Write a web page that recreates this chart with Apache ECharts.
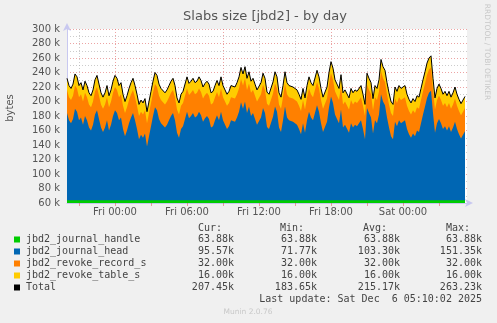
<!DOCTYPE html>
<html><head><meta charset="utf-8">
<script src="https://cdn.jsdelivr.net/npm/echarts@6/dist/echarts.min.js"></script>
<style>html,body{margin:0;padding:0;background:#f0f0f0}#c{width:497px;height:323px}</style>
</head><body><div id="c"></div>
<script>
// time in hours relative to Fri 00:00; samples every 10 minutes
const startHour = -4;
const stepHours = 1 / 6;
const axisMinHour = -4;
const axisMaxHour = 29.3333;
// Total (k bytes)
const totalK = [
 232,222,218,224,238,234,222,226,216,228,
 222,212,208,216,230,236,224,212,206,212,
 222,208,216,228,236,232,222,226,210,200,
 208,218,226,232,222,210,196,202,198,204,
 186,200,214,228,240,236,224,218,220,212,
 216,222,228,232,222,205,198,210,214,212,
 234,225,228,232,226,228,234,229,220,225,
 228,224,212,214,222,229,222,234,222,224,
 210,214,222,220,220,226,234,247,238,248,
 232,241,228,232,224,216,214,226,239,232,
 213,210,208,227,241,234,212,206,222,241,
 226,222,224,220,222,216,210,203,218,205,
 222,234,226,222,224,243,234,218,206,204,
 220,240,255,246,230,224,218,237,212,216,
 218,205,218,212,216,214,212,222,210,196,
 239,232,226,204,222,218,230,258,248,243,
 226,212,200,196,220,214,222,218,216,222,
 210,203,198,204,200,208,206,218,230,241,
 253,260,263,232,205,218,224,218,210,214,
 208,214,206,212,220,210,203,197,202,207
];
const handleK = 63.88;
const recordK = 32.00;
const tableK = 16.00;
const xTickHours = [0, 6, 12, 18, 24];
const xTickLabels = ['Fri 00:00', 'Fri 06:00', 'Fri 12:00', 'Fri 18:00', 'Sat 00:00'];
const xMajorTickHours = [-3, 0, 3, 6, 9, 12, 15, 18, 21, 24, 27];
const yMin = 60, yMax = 300;
const legendNames = ['jbd2_journal_handle', 'jbd2_journal_head', 'jbd2_revoke_record_s', 'jbd2_revoke_table_s', 'Total'];
const legendColors = ['#00CC00', '#0066B3', '#FF8000', '#FFCC00', '#000000'];
const legendCur = ['63.88k', '95.57k', '32.00k', '16.00k', '207.45k'];
const legendMin = ['63.88k', '71.77k', '32.00k', '16.00k', '183.65k'];
const legendAvg = ['63.88k', '103.30k', '32.00k', '16.00k', '215.17k'];
const legendMax = ['63.88k', '151.35k', '32.00k', '16.00k', '263.23k'];

const hours = totalK.map((_, i) => startHour + i * stepHours);
// cumulative tops of the stacked areas (handle, +head, +record, +table)
const headK = totalK.map(t => t - handleK - recordK - tableK);
const topHandle = hours.map(h => [h, handleK]);
const topHead = hours.map((h, i) => [h, handleK + headK[i]]);
const topRecord = hours.map((h, i) => [h, handleK + headK[i] + recordK]);
const topTable = hours.map((h, i) => [h, handleK + headK[i] + recordK + tableK]);
const totalData = hours.map((h, i) => [h, totalK[i]]);

const RED = 'rgba(220,90,90,0.55)';
const GRAY = 'rgba(170,170,170,0.6)';
const mono = '"DejaVu Sans Mono", monospace';
const sans = '"DejaVu Sans", sans-serif';

function area(name, data, color, z) {
  return { name, type: 'line', data, symbol: 'none', showSymbol: false, z,
    lineStyle: { width: 0 }, areaStyle: { color, opacity: 1, origin: 'start' }, itemStyle: { color },
    silent: true, animation: false };
}

const graphics = [];
graphics.push({ type: 'text', style: { text: 'Slabs size [jbd2] - by day', x: 265, y: 17, align: 'center', verticalAlign: 'middle', font: '13px ' + sans, fill: '#555' } });
graphics.push({ type: 'text', x: 10, y: 108, rotation: Math.PI / 2, style: { text: 'bytes', align: 'center', verticalAlign: 'middle', font: '10px ' + sans, fill: '#555' } });
graphics.push({ type: 'text', x: 487, y: 52, rotation: -Math.PI / 2, style: { text: 'RRDTOOL / TOBI OETIKER', align: 'center', verticalAlign: 'middle', font: '7.5px ' + sans, fill: '#c8c8c8' } });
const rowY = [239.5, 251.5, 263.5, 275.5, 287.5];
const colX = [234, 317, 400, 482];
const headerX = [222, 304, 387, 470];
['Cur:', 'Min:', 'Avg:', 'Max:'].forEach((t, j) => {
  graphics.push({ type: 'text', style: { text: t, x: headerX[j], y: 228.5, align: 'right', verticalAlign: 'middle', font: '10px ' + mono, fill: '#444' } });
});
legendNames.forEach((n, i) => {
  graphics.push({ type: 'rect', shape: { x: 14, y: rowY[i] - 3, width: 6, height: 6 }, style: { fill: legendColors[i] } });
  graphics.push({ type: 'text', style: { text: n, x: 26, y: rowY[i], align: 'left', verticalAlign: 'middle', font: '10px ' + mono, fill: '#444' } });
  [legendCur, legendMin, legendAvg, legendMax].forEach((arr, j) => {
    graphics.push({ type: 'text', style: { text: arr[i], x: colX[j], y: rowY[i], align: 'right', verticalAlign: 'middle', font: '10px ' + mono, fill: '#444' } });
  });
});
graphics.push({ type: 'text', style: { text: 'Last update: Sat Dec  6 05:10:02 2025', x: 482, y: 299.5, align: 'right', verticalAlign: 'middle', font: '10px ' + mono, fill: '#444' } });
graphics.push({ type: 'text', style: { text: 'Munin 2.0.76', x: 248, y: 312, align: 'center', verticalAlign: 'middle', font: '7.5px ' + sans, fill: '#c8c8c8' } });

const chart = echarts.init(document.getElementById('c'), null, { renderer: 'canvas' });
chart.setOption({
  animation: false,
  backgroundColor: '#f0f0f0',
  grid: { left: 67, right: 30, top: 29, bottom: 120, show: true, backgroundColor: '#ffffff', borderWidth: 0 },
  xAxis: {
    type: 'value', min: axisMinHour, max: axisMaxHour, interval: 1,
    axisLine: { show: true, onZero: false, lineStyle: { color: '#c8c8f0', width: 1 }, symbol: ['none', 'arrow'], symbolSize: [6, 8], symbolOffset: [0, 6] },
    axisTick: { show: true, length: 3, inside: false, customValues: xMajorTickHours, lineStyle: { color: RED } },
    splitLine: { show: true, lineStyle: { color: [GRAY, RED, GRAY], type: [1, 2], width: 1 } },
    axisLabel: { margin: 4, fontSize: 10, fontFamily: 'DejaVu Sans', color: '#555',
      formatter: v => { const k = xTickHours.indexOf(Math.round(v * 1000) / 1000); return k >= 0 ? xTickLabels[k] : ''; } }
  },
  yAxis: {
    type: 'value', min: yMin, max: yMax, interval: 10,
    axisLine: { show: true, onZero: false, lineStyle: { color: '#c8c8f0', width: 1 }, symbol: ['none', 'arrow'], symbolSize: [6, 8], symbolOffset: [0, 6] },
    axisTick: { show: false },
    splitLine: { show: true, lineStyle: { color: [RED, GRAY], type: [1, 2], width: 1 } },
    axisLabel: { margin: 7, fontSize: 10, fontFamily: 'DejaVu Sans', color: '#555',
      formatter: v => (Math.round(v) % 20 === 0 ? Math.round(v) + ' k' : '') }
  },
  series: [
    area('jbd2_revoke_table_s', topTable, '#FFCC00', 1),
    area('jbd2_revoke_record_s', topRecord, '#FF8000', 2),
    area('jbd2_journal_head', topHead, '#0066B3', 3),
    area('jbd2_journal_handle', topHandle, '#00CC00', 4),
    { name: 'Total', type: 'line', data: totalData, symbol: 'none', showSymbol: false,
      lineStyle: { color: '#000', width: 1 }, itemStyle: { color: '#000' }, z: 5, silent: true }
  ],
  graphic: graphics
});
</script></body></html>
